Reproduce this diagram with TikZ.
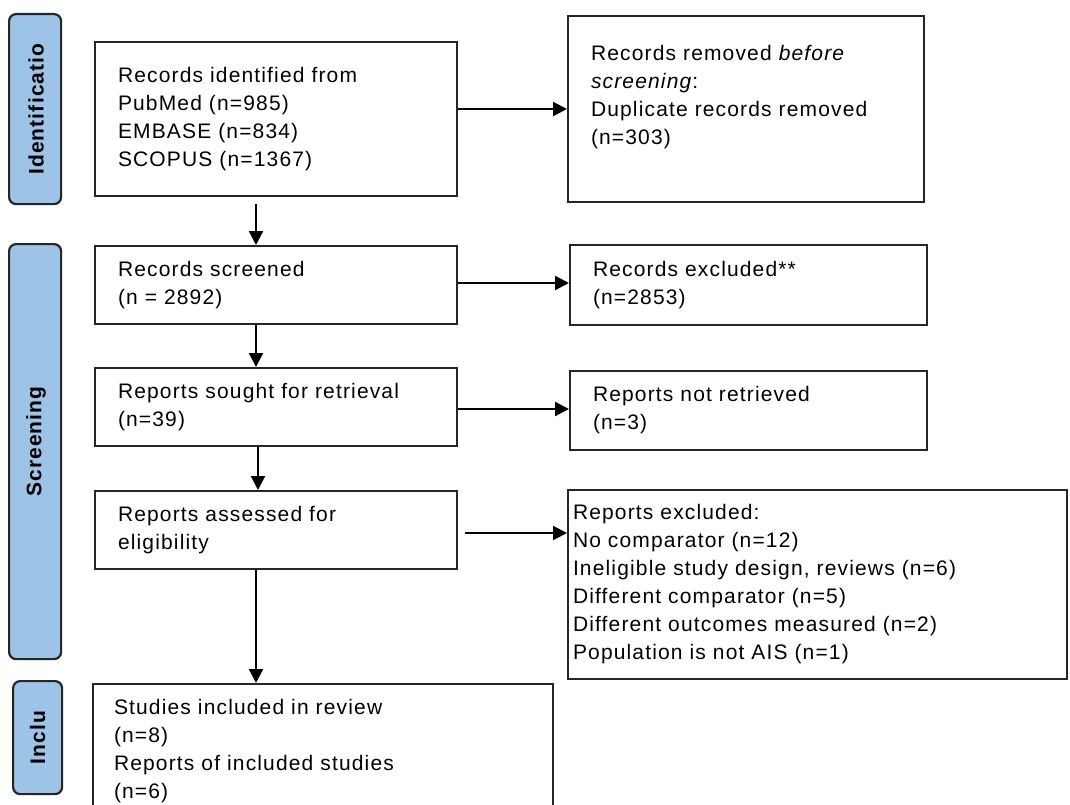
\documentclass[tikz,border=0pt]{standalone}
\usepackage{fontspec}
\setmainfont{Liberation Sans}[LetterSpace=5.5]
\usetikzlibrary{arrows.meta}
\definecolor{barblue}{RGB}{157,195,230}
\newcommand\boxfont{\fontsize{21}{28}\selectfont}
\begin{document}
\begin{tikzpicture}[x=1pt,y=-1pt,
  box/.style={draw=black!85, line width=2pt, rectangle, anchor=north west, align=left,
    font=\boxfont, inner xsep=23pt, inner ysep=0pt},
  bar/.style={draw=black!85, fill=barblue, line width=2.2pt, rounded corners=7pt,
    anchor=north west, minimum width=52pt, inner sep=0pt},
  barlabel/.style={rotate=90, font=\boxfont\bfseries, inner sep=0pt},
  arr/.style={line width=2.2pt, -{Triangle[width=14pt,length=14pt]}},
]
\fill[white] (0,0) rectangle (1070,805);
\useasboundingbox (0,0) rectangle (1070,805);
\clip (0,0) rectangle (1070,805);

% phase bars
\node[bar, minimum height=190pt] (s1) at (8,13) {};
\node[bar, minimum height=415pt] (s2) at (8,243) {};
\node[bar, minimum width=49pt, minimum height=113pt] (s3) at (12,680) {};
\node[barlabel] (l1) at ([xshift=1pt]s1.center) {Identificatio};
\node[barlabel] (l2) at ([xshift=1pt,yshift=10pt]s2.center) {Screening};
\node[barlabel] (l3) at (s3.center) {Inclu};

% left column
\node[box, minimum width=362pt, minimum height=154pt, text width=316pt] (b1) at (94,41)
  {Records identified from\\PubMed (n=985)\\EMBASE (n=834)\\SCOPUS (n=1367)};
\node[box, minimum width=362pt, minimum height=78pt, text width=316pt] (b2) at (94,245)
  {Records screened\\(n = 2892)};
\node[box, minimum width=362pt, minimum height=78pt, text width=316pt] (b3) at (94,367)
  {Reports sought for retrieval\\(n=39)};
\node[box, minimum width=362pt, minimum height=78pt, text width=316pt] (b4) at (94,490)
  {Reports assessed for\\eligibility};
\node[box, minimum width=460pt, minimum height=135pt, inner xsep=21pt, text width=418pt] (b5) at (92,683)
  {Studies included in review\\(n=8)\\Reports of included studies\\(n=6)};

% right column
\node[box, minimum width=356pt, minimum height=186pt, text width=310pt] (r1) at (567,15)
  {Records removed \textit{before}\\\textit{screening}:\\Duplicate records removed\\(n=303)\\\mbox{}};
\node[box, minimum width=357pt, minimum height=80pt, text width=311pt] (r2) at (569,244)
  {Records excluded**\\(n=2853)};
\node[box, minimum width=357pt, minimum height=79pt, text width=311pt] (r3) at (569,370)
  {Reports not retrieved\\(n=3)};
\node[box, minimum width=499pt, minimum height=189pt, inner xsep=5pt, text width=489pt] (r4) at (567,489)
  {Reports excluded:\\No comparator (n=12)\\Ineligible study design, reviews (n=6)\\Different comparator (n=5)\\Different outcomes measured (n=2)\\Population is not AIS (n=1)};

% horizontal arrows
\draw[arr] (r1.west -| b1.east) -- (r1.west);
\draw[arr] ([yshift=2pt]b2.east) -- ([yshift=2pt]b2.east -| r2.west);
\draw[arr] ([yshift=-2pt]b3.east) -- ([yshift=-2pt]b3.east -| r3.west);
\draw[arr] ([xshift=7pt,yshift=-3pt]b4.east) -- ([yshift=-3pt]b4.east -| r4.west);

% vertical arrows
\draw[arr] ([xshift=-20pt,yshift=-7pt]b1.south) -- ([xshift=-20pt]b2.north);
\draw[arr] ([xshift=-20pt]b2.south) -- ([xshift=-20pt]b3.north);
\draw[arr] ([xshift=-18pt]b3.south) -- ([xshift=-18pt]b4.north);
\draw[arr] ([xshift=-20pt]b4.south) -- ([xshift=-20pt]b4.south |- b5.north);
\end{tikzpicture}
\end{document}
